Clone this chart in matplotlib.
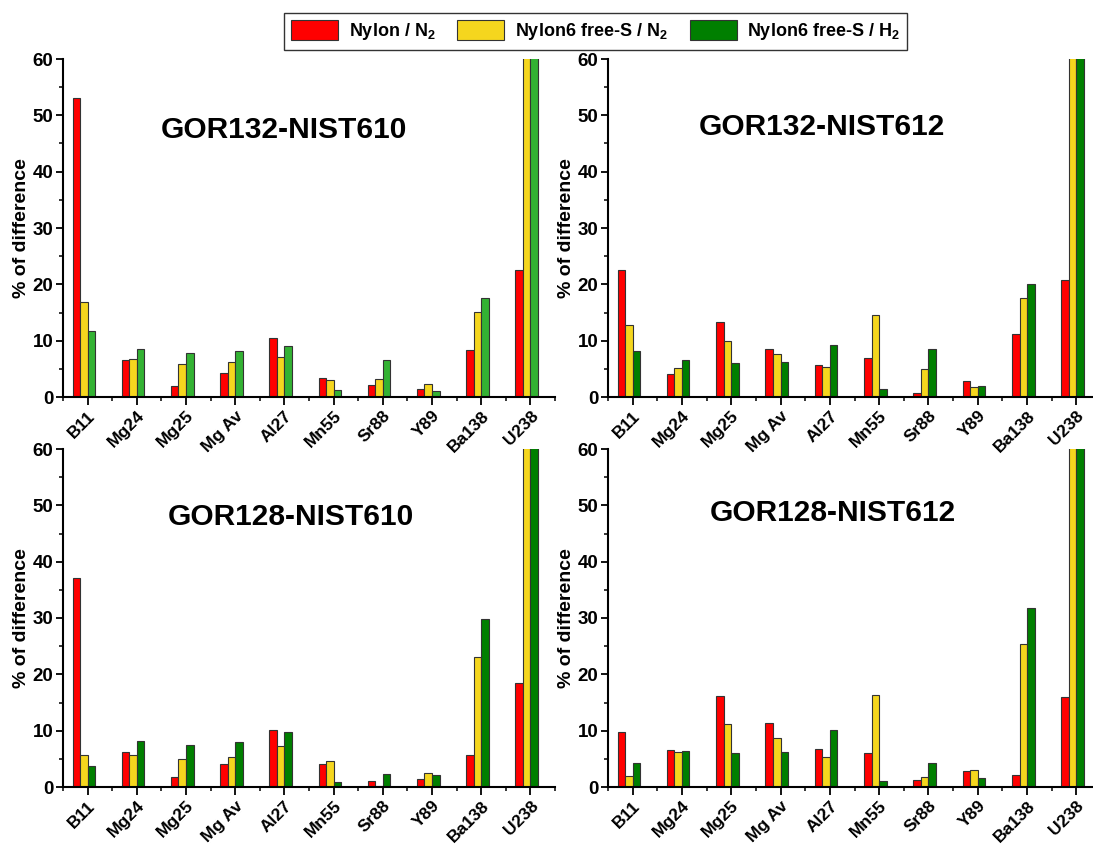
import numpy as np
import matplotlib
matplotlib.use("Agg")
import matplotlib.pyplot as plt
import matplotlib.transforms as mtransforms
from matplotlib.patches import Patch
from matplotlib.ticker import MultipleLocator

plt.rcParams["font.family"] = ["Liberation Sans", "DejaVu Sans"]
plt.rcParams["font.weight"] = "bold"
plt.rcParams["mathtext.default"] = "regular"

# ---- data (% of difference) ----
elements = ["B11", "Mg24", "Mg25", "Mg Av", "Al27", "Mn55", "Sr88", "Y89", "Ba138", "U238"]
series_labels = ["Nylon / N$_2$", "Nylon6 free-S / N$_2$", "Nylon6 free-S / H$_2$"]

# GOR132-NIST610
g132_610_nylon = [53.1, 6.5, 1.9, 4.2, 10.5, 3.4, 2.1, 1.5, 8.35, 22.5]
g132_610_freeS_n2 = [16.8, 6.75, 5.9, 6.3, 7.05, 3.1, 3.25, 2.25, 15.1, 80.0]
g132_610_freeS_h2 = [11.7, 8.6, 7.8, 8.2, 9.0, 1.3, 6.5, 1.1, 17.65, 90.0]

# GOR132-NIST612
g132_612_nylon = [22.6, 4.0, 13.3, 8.6, 5.6, 6.9, 0.7, 2.85, 11.1, 20.7]
g132_612_freeS_n2 = [12.8, 5.2, 10.0, 7.6, 5.3, 14.6, 5.0, 1.7, 17.6, 80.0]
g132_612_freeS_h2 = [8.2, 6.6, 6.0, 6.3, 9.3, 1.5, 8.5, 2.0, 20.0, 90.0]

# GOR128-NIST610
g128_610_nylon = [37.1, 6.3, 1.7, 4.0, 10.2, 4.0, 1.0, 1.5, 5.6, 18.4]
g128_610_freeS_n2 = [5.6, 5.75, 5.0, 5.4, 7.2, 4.7, 0.2, 2.55, 23.0, 80.0]
g128_610_freeS_h2 = [3.8, 8.2, 7.5, 7.9, 9.8, 0.95, 2.25, 2.2, 29.9, 90.0]

# GOR128-NIST612
g128_612_nylon = [9.8, 6.6, 16.2, 11.4, 6.7, 6.0, 1.25, 2.8, 2.1, 15.9]
g128_612_freeS_n2 = [1.95, 6.3, 11.1, 8.7, 5.4, 16.4, 1.8, 2.95, 25.3, 80.0]
g128_612_freeS_h2 = [4.3, 6.45, 6.1, 6.3, 10.1, 1.1, 4.3, 1.65, 31.8, 90.0]

RED = "#ff0000"
YELLOW = "#f5d61e"
GREEN_LIGHT = "#33b233"
GREEN = "#007f00"

panels = [
    ("GOR132-NIST610", [g132_610_nylon, g132_610_freeS_n2, g132_610_freeS_h2], GREEN_LIGHT,
     [63, 59, 492, 338], (0.449, 0.79)),
    ("GOR132-NIST612", [g132_612_nylon, g132_612_freeS_n2, g132_612_freeS_h2], GREEN,
     [608, 59, 493, 338], (0.434, 0.80)),
    ("GOR128-NIST610", [g128_610_nylon, g128_610_freeS_n2, g128_610_freeS_h2], GREEN,
     [63, 449, 492, 338], (0.463, 0.80)),
    ("GOR128-NIST612", [g128_612_nylon, g128_612_freeS_n2, g128_612_freeS_h2], GREEN,
     [608, 449, 493, 338], (0.456, 0.81)),
]

W, H = 1093, 846
fig = plt.figure(figsize=(W / 100, H / 100), dpi=100)

x = np.arange(len(elements))
bw = 0.153
shift = mtransforms.ScaledTranslation(4 / 100, 0, fig.dpi_scale_trans)

for title, series, green, (px, py, pw, ph), (tx, ty) in panels:
    ax = fig.add_axes([px / W, 1 - (py + ph) / H, pw / W, ph / H])
    ax.patch.set_alpha(0)  # keep labels of the panel above visible
    colors = [RED, YELLOW, green]
    for k, (vals, c) in enumerate(zip(series, colors)):
        ax.bar(x + (k - 2) * bw, vals, width=bw, align="edge", color=c,
               edgecolor="#333333", linewidth=0.8)
    ax.set_xlim(-0.5, 9.5)
    ax.set_ylim(0, 60)
    ax.set_xticks(x)
    ax.set_xticklabels(elements, rotation=45, ha="right", va="top", rotation_mode="anchor",
                       fontsize=12.5, fontweight="bold")
    for lab in ax.get_xticklabels():
        lab.set_transform(lab.get_transform() + shift)
    ax.xaxis.set_minor_locator(MultipleLocator(1, offset=0.5))
    ax.yaxis.set_major_locator(MultipleLocator(10))
    ax.yaxis.set_minor_locator(MultipleLocator(5))
    ax.tick_params(axis="y", which="major", length=5, width=1.3, labelsize=13.5, pad=2)
    ax.tick_params(axis="y", which="minor", length=3, width=1.1)
    ax.tick_params(axis="x", which="major", length=6, width=1.3, pad=2)
    ax.tick_params(axis="x", which="minor", length=3, width=1.1)
    for lab in ax.get_yticklabels():
        lab.set_fontweight("bold")
    for s in ("top", "right"):
        ax.spines[s].set_visible(False)
    for s in ("left", "bottom"):
        ax.spines[s].set_linewidth(1.5)
    ax.set_ylabel("% of difference", fontsize=14, fontweight="bold", labelpad=2)
    ax.text(tx, ty, title, transform=ax.transAxes, ha="center", va="center",
            fontsize=21.5, fontweight="bold")

handles = [Patch(facecolor=c, edgecolor="#333333", linewidth=0.8) for c in (RED, YELLOW, GREEN)]
leg = fig.legend(handles, series_labels, loc="upper center", ncol=3,
                 bbox_to_anchor=(0.545, 0.995), frameon=True, fancybox=False,
                 edgecolor="black", handlelength=2.6, handleheight=1.3,
                 columnspacing=1.2, borderpad=0.4, handletextpad=0.6,
                 prop={"size": 13, "weight": "bold"})
leg.get_frame().set_linewidth(1.0)

fig.savefig("out.png", dpi=100)
